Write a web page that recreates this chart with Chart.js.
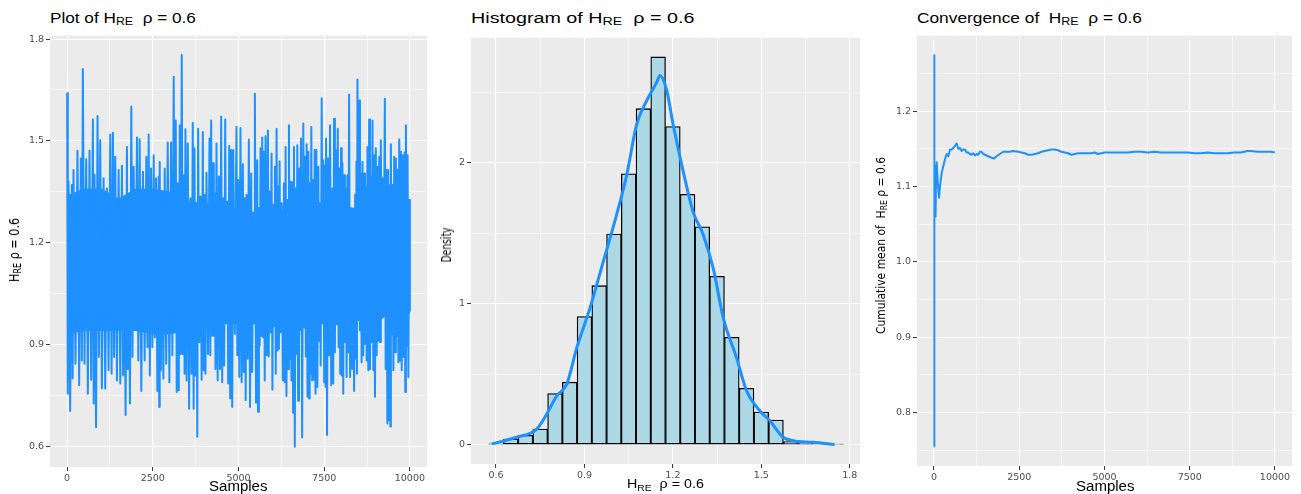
<!DOCTYPE html>
<html>
<head>
<meta charset="utf-8">
<script src="https://cdn.jsdelivr.net/npm/chart.js@4.4.1/dist/chart.umd.min.js"></script>
<style>
  body { margin: 0; width: 1301px; height: 494px; background: #fff; position: relative; overflow: hidden;
         font-family: 'Liberation Sans', Arial, sans-serif; }
  canvas { position: absolute; }
  .lbl { position: absolute; white-space: nowrap; line-height: 1; color: #000; }
  .sub { font-size: 0.72em; position: relative; top: 0.22em; }
  .rot { font-family: 'Liberation Sans Narrow', 'DejaVu Sans Condensed', 'Liberation Sans', sans-serif; }
</style>
</head>
<body>
<canvas id="trace" width="432" height="455" style="left:0;top:28px"></canvas>
<canvas id="hist" width="435" height="451" style="left:430px;top:30px"></canvas>
<canvas id="conv" width="427" height="455" style="left:870px;top:28px"></canvas>

<div class="lbl" id="t1">Plot of H<span class="sub">RE</span>&nbsp; ρ = 0.6</div>
<div class="lbl" id="t2">Histogram of H<span class="sub">RE</span>&nbsp; ρ = 0.6</div>
<div class="lbl" id="t3">Convergence of&nbsp; H<span class="sub">RE</span>&nbsp; ρ = 0.6</div>
<div class="lbl" id="x1">Samples</div>
<div class="lbl" id="x2">H<span class="sub">RE</span>&nbsp; ρ = 0.6</div>
<div class="lbl" id="x3">Samples</div>
<div class="lbl rot" id="y1">H<span class="sub">RE</span> ρ = 0.6</div>
<div class="lbl rot" id="y2">Density</div>
<div class="lbl rot" id="y3">Cumulative mean of&nbsp; H<span class="sub">RE</span> ρ = 0.6</div>

<script>
// trace plot: sample index, upper and lower excursions
const traceSamples = [0, 39, 137, 185, 302, 400, 458, 556, 653, 751, 800, 887, 965, 1063, 1160, 1258, 1336, 1404, 1502, 1599,
  1667, 1745, 1794, 1872, 1940, 2038, 2116, 2213, 2311, 2379, 2447, 2525, 2594, 2672, 2701, 2769, 2847, 2935, 3032, 3110,
  3169, 3227, 3286, 3344, 3403, 3452, 3520, 3598, 3666, 3715, 3773, 3822, 3890, 3959, 4007, 4066, 4154, 4202, 4261, 4300,
  4358, 4427, 4495, 4553, 4612, 4670, 4729, 4787, 4846, 4941, 4990, 5058, 5127, 5185, 5234, 5302, 5370, 5429, 5478, 5546,
  5595, 5643, 5692, 5741, 5790, 5858, 5907, 5965, 6014, 6063, 6111, 6160, 6199, 6258, 6326, 6375, 6423, 6472, 6521, 6570,
  6618, 6667, 6716, 6765, 6823, 6891, 6940, 6989, 7038, 7077, 7125, 7174, 7223, 7272, 7330, 7369, 7428, 7476, 7525, 7554,
  7613, 7671, 7740, 7788, 7837, 7896, 7944, 7993, 8032, 8081, 8130, 8178, 8227, 8286, 8344, 8403, 8442, 8471, 8520, 8568,
  8617, 8666, 8715, 8763, 8812, 8861, 8910, 8958, 9007, 9056, 9105, 9153, 9202, 9270, 9319, 9368, 9417, 9446, 9495, 9543,
  9592, 9641, 9690, 9739, 9787, 9846, 9885, 9934, 9982]
const traceHigh = [1.641, 1.380, 1.370, 1.414, 1.471, 1.448, 1.712, 1.446, 1.471, 1.563, 1.400, 1.573, 1.502, 1.390, 1.360, 1.519, 1.524, 1.453, 1.414, 1.427,
  1.194, 1.482, 1.300, 1.601, 1.424, 1.510, 1.505, 1.409, 1.453, 1.519, 1.419, 1.458, 1.390, 1.395, 1.438, 1.351, 1.419, 1.495, 1.495, 1.689,
  1.560, 1.375, 1.546, 1.753, 1.399, 1.534, 1.492, 1.331, 1.553, 1.478, 1.316, 1.536, 1.336, 1.526, 1.341, 1.406, 1.507, 1.560, 1.434, 1.346,
  1.492, 1.395, 1.572, 1.331, 1.563, 1.321, 1.485, 1.473, 1.473, 1.541, 1.385, 1.538, 1.431, 1.331, 1.341, 1.504, 1.404, 1.282, 1.639, 1.443,
  1.302, 1.478, 1.510, 1.468, 1.514, 1.531, 1.351, 1.463, 1.312, 1.424, 1.536, 1.365, 1.440, 1.316, 1.375, 1.482, 1.326, 1.546, 1.380, 1.378,
  1.482, 1.360, 1.487, 1.419, 1.507, 1.551, 1.453, 1.490, 1.468, 1.375, 1.541, 1.385, 1.473, 1.473, 1.424, 1.316, 1.626, 1.443, 1.427, 1.507,
  1.448, 1.546, 1.360, 1.565, 1.473, 1.536, 1.419, 1.478, 1.434, 1.399, 1.360, 1.399, 1.637, 1.224, 1.297, 1.341, 1.440, 1.681, 1.619, 1.404,
  1.438, 1.404, 1.365, 1.482, 1.563, 1.395, 1.560, 1.458, 1.478, 1.424, 1.453, 1.502, 1.390, 1.624, 1.414, 1.414, 1.370, 1.490, 1.370, 1.453,
  1.448, 1.414, 1.504, 1.468, 1.458, 1.466, 1.546, 1.458, 1.326]
const traceLow = [0.755, 0.704, 0.800, 0.843, 0.780, 0.853, 0.843, 0.755, 0.796, 0.726, 0.656, 0.863, 0.770, 0.770, 0.824, 0.814, 0.863, 0.794, 0.785, 0.809,
  0.692, 0.828, 0.726, 0.863, 0.970, 0.853, 0.763, 0.853, 0.892, 0.809, 0.892, 0.921, 0.763, 0.716, 0.824, 0.799, 0.843, 0.789, 0.868, 1.009,
  0.760, 0.765, 0.872, 0.872, 0.814, 0.794, 0.711, 0.814, 0.711, 0.809, 0.628, 0.907, 0.796, 0.824, 0.814, 0.872, 0.868, 0.926, 0.926, 0.828,
  0.794, 0.828, 0.789, 0.838, 0.970, 0.785, 0.741, 0.716, 0.931, 0.868, 0.804, 0.789, 0.819, 0.736, 0.858, 0.716, 0.819, 0.970, 0.728, 0.702,
  0.897, 0.926, 0.921, 0.794, 0.868, 0.865, 0.936, 0.767, 0.990, 0.814, 0.882, 0.887, 0.936, 0.794, 0.789, 0.748, 0.828, 0.858, 0.794, 0.699,
  0.599, 0.872, 0.734, 0.941, 0.626, 0.950, 0.865, 0.746, 0.741, 0.814, 0.794, 0.796, 0.755, 0.775, 0.911, 0.838, 0.965, 0.789, 0.775, 0.633,
  0.868, 0.780, 0.785, 0.877, 0.960, 0.892, 0.814, 0.809, 0.755, 0.907, 0.804, 0.877, 0.804, 0.828, 0.763, 0.858, 0.814, 0.980, 0.941, 0.848,
  0.868, 0.902, 0.853, 0.824, 0.828, 0.907, 0.824, 0.746, 0.868, 0.911, 0.907, 0.990, 1.072, 0.828, 0.667, 0.677, 0.658, 0.931, 0.824, 0.877,
  0.926, 0.848, 0.853, 0.824, 0.863, 0.760, 0.897, 0.804, 0.999]
// edges of the solid core of the trace (where the 10000 samples overlap completely)
const coreSamples = [0, 500, 1000, 1500, 2000, 2500, 3000, 3500, 4000, 4500, 5000, 5500, 6000, 6500, 7000, 7500, 8000, 8500, 9000, 9500, 10000]
const coreHigh = [1.34, 1.36, 1.36, 1.33, 1.36, 1.36, 1.35, 1.32, 1.32, 1.31, 1.30, 1.29, 1.29, 1.30, 1.30, 1.32, 1.31, 1.30, 1.33, 1.32, 1.32]
const coreLow = [0.93, 0.94, 0.94, 0.94, 0.94, 0.93, 0.93, 0.94, 0.95, 0.96, 0.96, 0.96, 0.95, 0.96, 0.96, 0.96, 0.96, 0.97, 0.96, 1.00, 0.99]

// histogram (binwidth 0.05) and density curve
const histMids = [0.60, 0.65, 0.70, 0.75, 0.80, 0.85, 0.90, 0.95, 1.00, 1.05, 1.10, 1.15,
  1.20, 1.25, 1.30, 1.35, 1.40, 1.45, 1.50, 1.55, 1.60, 1.65, 1.70, 1.75]
const histDensity = [0.005, 0.040, 0.066, 0.110, 0.363, 0.443, 0.909, 1.128, 1.494, 1.922, 2.384, 2.751,
  2.257, 1.776, 1.545, 1.194, 0.761, 0.400, 0.231, 0.174, 0.021, 0.012, 0.005, 0.002]
const densX = [0.585, 0.670, 0.738, 0.772, 0.806, 0.840, 0.874, 0.919, 0.964, 1.009, 1.043, 1.077, 1.111, 1.145, 1.156,
  1.178, 1.201, 1.235, 1.269, 1.303, 1.337, 1.371, 1.416, 1.450, 1.495, 1.529, 1.574, 1.608, 1.676, 1.749]
const densY = [0.005, 0.052, 0.110, 0.217, 0.346, 0.429, 0.688, 0.970, 1.300, 1.630, 1.910, 2.270, 2.440, 2.570, 2.620,
  2.525, 2.270, 1.940, 1.650, 1.490, 1.250, 0.900, 0.617, 0.382, 0.240, 0.170, 0.052, 0.028, 0.016, 0.000]

// running mean
const convSamples = [1, 3, 8, 15, 30, 45, 60, 78, 108, 147, 176, 225, 273, 322, 371, 420, 468, 517, 566, 615, 664, 712, 761,
  810, 859, 907, 956, 1005, 1054, 1102, 1151, 1200, 1249, 1297, 1346, 1395, 1444, 1493, 1541, 1590, 1688, 1766, 1834, 1931,
  2029, 2127, 2224, 2321, 2468, 2565, 2663, 2760, 2858, 2955, 3053, 3151, 3248, 3346, 3443, 3541, 3638, 3736, 3833, 3931,
  4028, 4126, 4223, 4321, 4418, 4516, 4614, 4711, 4809, 4906, 5004, 5101, 5296, 5491, 5686, 5881, 6076, 6272, 6467, 6662,
  6857, 7052, 7247, 7442, 7637, 7832, 8027, 8222, 8417, 8612, 8807, 9002, 9197, 9295, 9490, 9685, 9880, 9997]
const convMeans = [0.755, 1.274, 1.100, 1.130, 1.125, 1.060, 1.120, 1.132, 1.105, 1.085, 1.101, 1.118, 1.127, 1.136, 1.143, 1.140, 1.149, 1.149, 1.151, 1.154, 1.157, 1.150, 1.151,
  1.147, 1.149, 1.149, 1.145, 1.145, 1.143, 1.142, 1.144, 1.141, 1.143, 1.142, 1.146, 1.146, 1.143, 1.142, 1.141, 1.140, 1.138, 1.137, 1.140, 1.143,
  1.146, 1.146, 1.146, 1.147, 1.146, 1.145, 1.144, 1.142, 1.142, 1.143, 1.144, 1.146, 1.147, 1.148, 1.149, 1.149, 1.148, 1.146, 1.145, 1.144,
  1.142, 1.143, 1.144, 1.144, 1.144, 1.144, 1.144, 1.145, 1.143, 1.144, 1.145, 1.145, 1.145, 1.145, 1.145, 1.146, 1.146, 1.145, 1.146, 1.145,
  1.145, 1.145, 1.145, 1.145, 1.144, 1.144, 1.145, 1.144, 1.144, 1.144, 1.145, 1.145, 1.147, 1.147, 1.146, 1.146, 1.146, 1.145]

// tick positions
const sampleTicks = [0, 2500, 5000, 7500, 10000]
const sampleMinor = [1250, 3750, 6250, 8750]
const hreTicks = [0.6, 0.9, 1.2, 1.5, 1.8]
const hreMinor = [0.75, 1.05, 1.35, 1.65]
const densTicks = [0, 1, 2]
const densMinor = [0.5, 1.5, 2.5]
const meanTicks = [0.8, 0.9, 1.0, 1.1, 1.2]
const meanMinor = [0.75, 0.85, 0.95, 1.05, 1.15, 1.25]

const BLUE = '#1E90FF'
Chart.defaults.font.family = "'DejaVu Sans', sans-serif"

const panelBg = {
  id: 'panelBg',
  beforeDraw(chart) {
    const { ctx, chartArea: a } = chart
    ctx.save()
    ctx.fillStyle = '#EBEBEB'
    ctx.fillRect(a.left, a.top, a.right - a.left, a.bottom - a.top)
    ctx.restore()
  }
}

function axis(min, max, major, minor, fmt, size) {
  const all = major.concat(minor).sort((a, b) => a - b)
  const isMajor = v => major.some(m => Math.abs(m - v) < 1e-9)
  return {
    type: 'linear', min: min, max: max, offset: false,
    afterBuildTicks: s => { s.ticks = all.map(v => ({ value: v })) },
    afterFit: s => { if (s.isHorizontal()) s.height = size; else s.width = size },
    grid: {
      color: '#FFFFFF', offset: false, drawTicks: true, tickLength: 4, tickWidth: 1,
      lineWidth: c => (c.tick && isMajor(c.tick.value)) ? 1.1 : 0.55,
      tickColor: c => (c.tick && isMajor(c.tick.value)) ? '#333333' : 'rgba(0,0,0,0)'
    },
    border: { display: false },
    ticks: {
      autoSkip: false, maxRotation: 0, minRotation: 0, padding: 2,
      color: '#4D4D4D', font: { size: 9.5 },
      callback: v => isMajor(v) ? fmt(v) : ''
    }
  }
}

function baseOptions(x, y) {
  return {
    responsive: false, animation: false, events: [],
    layout: { padding: { top: 5, right: 5, left: 0, bottom: 0 } },
    plugins: { legend: { display: false }, tooltip: { enabled: false }, title: { display: false } },
    scales: { x: x, y: y }
  }
}

// zigzag between the upper and lower excursions of the trace
const tracePoints = []
traceSamples.forEach((s, i) => {
  tracePoints.push({ x: s, y: traceHigh[i] })
  const next = i < traceSamples.length - 1 ? (s + traceSamples[i + 1]) / 2 : 10000
  tracePoints.push({ x: next, y: traceLow[i] })
})

new Chart(document.getElementById('trace'), {
  type: 'line',
  data: { datasets: [
    { order: 2, data: coreSamples.map((s, i) => ({ x: s, y: coreHigh[i] })),
      borderWidth: 0, pointRadius: 0, fill: false },
    { order: 1, data: coreSamples.map((s, i) => ({ x: s, y: coreLow[i] })),
      borderWidth: 0, pointRadius: 0, fill: '-1', backgroundColor: BLUE },
    { order: 0, data: tracePoints, borderColor: BLUE, borderWidth: 2, pointRadius: 0,
      borderJoinStyle: 'round', tension: 0, fill: false }
  ] },
  options: baseOptions(
    axis(-500, 10500, sampleTicks, sampleMinor, v => String(v), 16),
    axis(0.539, 1.81, hreTicks, hreMinor, v => v.toFixed(1), 50)),
  plugins: [panelBg]
})

new Chart(document.getElementById('hist'), {
  type: 'bar',
  data: { datasets: [
    { type: 'line', order: 0, data: densX.map((x, i) => ({ x: x, y: densY[i] })),
      borderColor: BLUE, borderWidth: 3, pointRadius: 0, cubicInterpolationMode: 'monotone', fill: false },
    { type: 'bar', order: 1, data: histMids.map((x, i) => ({ x: x, y: histDensity[i] })),
      backgroundColor: '#ADD8E6', borderColor: '#000000', borderWidth: 1.3, borderSkipped: false,
      barPercentage: 1, categoryPercentage: 1 }
  ] },
  options: baseOptions(
    axis(0.515, 1.835, hreTicks, hreMinor, v => v.toFixed(1), 17),
    axis(-0.1375, 2.8875, densTicks, densMinor, v => String(v), 41)),
  plugins: [panelBg]
})

new Chart(document.getElementById('conv'), {
  type: 'line',
  data: { datasets: [{ data: convSamples.map((s, i) => ({ x: s, y: convMeans[i] })),
    borderColor: BLUE, borderWidth: 2, pointRadius: 0, borderJoinStyle: 'round', tension: 0, fill: false }] },
  options: baseOptions(
    axis(-500, 10500, sampleTicks, sampleMinor, v => String(v), 17),
    axis(0.729, 1.3, meanTicks, meanMinor, v => v.toFixed(1), 47)),
  plugins: [panelBg]
})

// html titles, stretched to the widths measured on the reference
function place(id, o) {
  const el = document.getElementById(id)
  el.style.fontSize = o.size + 'px'
  const w = el.offsetWidth, h = el.offsetHeight
  const k = o.len / w
  if (o.rot) {
    el.style.left = (o.cx - w / 2) + 'px'
    el.style.top = (o.cy - h / 2) + 'px'
    el.style.transform = 'rotate(-90deg) scaleX(' + k + ')'
  } else {
    const left = o.cx !== undefined ? o.cx - o.len / 2 : o.x
    el.style.left = left + 'px'
    el.style.top = (o.base - o.size * 0.8465) + 'px'
    el.style.transformOrigin = 'left center'
    el.style.transform = 'scaleX(' + k + ')'
  }
}
place('t1', { x: 50, base: 23, size: 14, len: 146 })
place('t2', { x: 471, base: 23, size: 14, len: 224 })
place('t3', { x: 917, base: 23, size: 14, len: 225 })
place('x1', { cx: 238, base: 491, size: 14, len: 58 })
place('x2', { cx: 665, base: 488.5, size: 13, len: 77 })
place('x3', { cx: 1105, base: 491, size: 14, len: 58 })
place('y1', { rot: true, cx: 14, cy: 250, size: 14, len: 64 })
place('y2', { rot: true, cx: 446, cy: 245, size: 14, len: 35 })
place('y3', { rot: true, cx: 880, cy: 245, size: 13, len: 177 })
</script>
</body>
</html>
